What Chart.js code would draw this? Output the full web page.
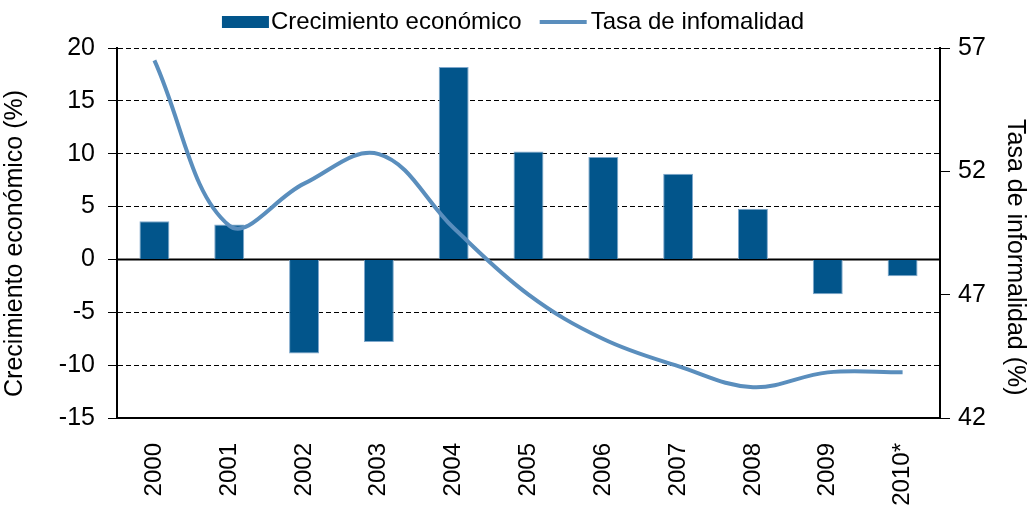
<!DOCTYPE html>
<html><head><meta charset="utf-8">
<script src="https://cdn.jsdelivr.net/npm/chart.js@4"></script>
<style>html,body{margin:0;padding:0;background:#fff}#wrap{width:1035px;height:506px}</style>
</head><body><div id="wrap"><canvas id="c" width="1035" height="506"></canvas></div>
<script>
const categories = ['2000','2001','2002','2003','2004','2005','2006','2007','2008','2009','2010*'];
const crecimiento = [3.6, 3.3, -8.9, -7.8, 18.2, 10.2, 9.7, 8.1, 4.8, -3.3, -1.6];
const informalidad = [56.5, 49.8, 51.5, 52.7, 49.7, 47.0, 45.2, 44.1, 43.25, 43.85, 43.85];
const leftTicks = [-15, -10, -5, 0, 5, 10, 15, 20];
const rightTicks = [42, 47, 52, 57];

const FONT = 'Liberation Sans, Arial, sans-serif';
const BAR = '#02558B', LINE = '#5A8EBD';
const LEG_FONT = 24, SW = 47;

function swatch(kind) {
  const c = document.createElement('canvas');
  c.width = SW + LEG_FONT; c.height = 12;
  const g = c.getContext('2d');
  const x0 = LEG_FONT - 2;
  if (kind === 'bar') { g.fillStyle = BAR; g.fillRect(x0, 0, SW, 12); }
  else { g.fillStyle = LINE; g.fillRect(x0 - 2, 4, SW, 4); }
  return c;
}
const swatches = [swatch('bar'), swatch('line')];

const zeroLine = {
  id: 'zeroLine',
  beforeDatasetsDraw(chart) {
    const y = chart.scales.y, a = chart.chartArea, ctx = chart.ctx;
    const py = y.getPixelForValue(0);
    ctx.save(); ctx.strokeStyle = '#000'; ctx.lineWidth = 2;
    ctx.beginPath(); ctx.moveTo(a.left, py); ctx.lineTo(a.right, py); ctx.stroke();
    ctx.restore();
  }
};
new Chart(document.getElementById('c'), {
  data: {
    labels: categories,
    datasets: [
      { type: 'bar', label: 'Crecimiento económico', data: crecimiento, yAxisID: 'y',
        backgroundColor: BAR, borderColor: '#7FA8CC', borderWidth: 1, order: 2,
        barPercentage: 0.4, categoryPercentage: 1 },
      { type: 'line', label: 'Tasa de infomalidad', data: informalidad, yAxisID: 'y1',
        borderColor: LINE, backgroundColor: LINE, borderWidth: 4, pointRadius: 0,
        tension: 0.38, cubicInterpolationMode: 'default', order: 1 }
    ]
  },
  options: {
    responsive: false, animation: false,
    layout: { padding: { left: -14, right: 5, top: 0, bottom: 0 } },
    plugins: {
      tooltip: { enabled: false },
      title: { display: true, text: '', weight: 0, font: { size: 4, lineHeight: 1 }, padding: 0 },
      legend: {
        position: 'top',
        labels: {
          usePointStyle: true, pointStyleWidth: SW, boxWidth: SW, boxHeight: 12,
          font: { family: FONT, size: LEG_FONT }, color: '#000', padding: 10,
          generateLabels(chart) {
            const items = Chart.defaults.plugins.legend.labels.generateLabels(chart);
            items.sort((a, b) => a.datasetIndex - b.datasetIndex);
            items.forEach(it => { it.pointStyle = swatches[it.datasetIndex]; });
            return items;
          }
        }
      }
    },
    scales: {
      x: {
        grid: { display: true, drawOnChartArea: false, drawTicks: false },
        border: { color: '#000', width: 2 },
        ticks: { font: { family: FONT, size: 24 }, color: '#000', minRotation: 90, maxRotation: 90, padding: 25 },
        afterFit(s) { s.height = 88; }
      },
      y: {
        position: 'left', min: -15, max: 20,
        afterBuildTicks(s) { s.ticks = leftTicks.map(v => ({ value: v })); },
        grid: { color: '#000', lineWidth: 1, tickLength: 9, tickColor: '#000', tickBorderDash: [], tickWidth: 1 },
        border: { color: '#000', width: 2, dash: [5, 3] },
        ticks: { font: { family: FONT, size: 25 }, color: '#000', padding: 13 },
        title: { display: true, text: 'Crecimiento económico (%)\u00a0\u00a0\u00a0', font: { family: FONT, size: 25 }, color: '#000', padding: { top: 14, bottom: 0 } },
        afterFit(s) { s.width = 131; }
      },
      y1: {
        position: 'right', min: 42, max: 57,
        afterBuildTicks(s) { s.ticks = rightTicks.map(v => ({ value: v })); },
        grid: { drawOnChartArea: false, tickLength: 10, tickColor: '#000', tickWidth: 1 },
        border: { color: '#000', width: 2 },
        ticks: { font: { family: FONT, size: 25 }, color: '#000', padding: 8 },
        title: { display: true, text: '\u00a0\u00a0\u00a0\u00a0\u00a0\u00a0\u00a0Tasa de informalidad (%)', font: { family: FONT, size: 25 }, color: '#000', padding: 0 },
        afterFit(s) { s.width = 90; }
      }
    }
  },
  plugins: [zeroLine]
});
</script></body></html>
